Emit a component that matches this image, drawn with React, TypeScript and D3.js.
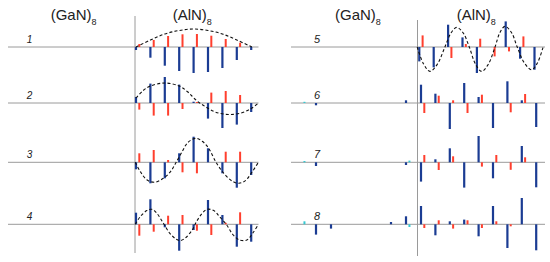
import React from 'react';
import * as d3 from 'd3';

// ---- categories / labels ----
const rowLabels = ['1', '2', '3', '4', '5', '6', '7', '8'];
const materials = ['GaN', 'AlN'];
const subscript = '8';
const alSites = [0, 1, 2, 3, 4, 5, 6, 7, 8]; // cation (blue) sites in AlN
const nSites = [0, 1, 2, 3, 4, 5, 6, 7]; // anion (red) sites in AlN

// ---- cation (blue) amplitudes per mode ----
const blue1 = [-3, -10.7, -18.7, -24, -26, -25, -21, -13, -3];
const blue2 = [6, 19.4, 26, 18.4, 1.3, -15.6, -25, -21.6, -9];
const blue3 = [-7, -21, -16, 9, 25.6, 14, -11, -25.4, -12.7];
const blue4 = [11.6, 25, -3, -26.4, -5.7, 24.3, 9.3, -22.4, -17.4];
const blue5 = [-14.4, -20.4, 22.3, 9.6, -26, 0, 25.6, -11.7, -22.7];
const blue6 = [18.3, 9.3, -26, 20, 6, -25, 21.7, 2.7, -24];
const blue7 = [-19.3, 3, 14, -25.3, 26.3, -16, 0, 16.3, -25];
const blue8 = [18.3, -11, 3, 4.7, -12, 18.3, -23.7, 26.3, -26];

// ---- anion (red) amplitudes per mode ----
const red1 = [3, 7, 11, 12.7, 13, 11.3, 8, 4.3];
const red2 = [-6.6, -12.6, -12.6, -6, 1, 10.4, 12, 8];
const red3 = [9, 12.3, 2.3, -10, -11, 0, 10.6, 10.6];
const red4 = [-11.4, -7.4, 8.6, 9.3, -6.4, -10.7, 1.5, 12];
const red5 = [11.6, 0, -11, 3, 8.3, -9.4, -4.4, 10.6];
const red6 = [-10, 7.3, 2.7, -10, 8.3, 0, -9.3, 9];
const red7 = [7.3, -7.7, 6, 0, -4.3, 7.3, -7.5, 5];
const red8 = [-3.7, 4, -4.3, 4, -3.7, 3, -2, 0];

// ---- GaN-side displacements [site, amplitude] ----
const ga6: [number, number][] = [[-7, -2.3], [-1, 2.7]];
const nGa6: [number, number][] = [[-8, 1.2]];
const ga7: [number, number][] = [[-7, -3.7], [-1, -2.7]];
const nGa7: [number, number][] = [[-8, 1.3], [-1, 1.7]];
const ga8: [number, number][] = [[-7, -10.3], [-6, -4.3], [-2, 2.3], [-1, 8]];
const nGa8: [number, number][] = [[-8, 3], [-1, -2.7]];

// ---- dashed envelopes [site, amplitude] ----
const env1: [number, number][] = [[0, 0], [1, 7], [2, 13], [3, 16.5], [4, 18], [5, 16.5], [6, 13], [7, 7], [8.05, 0]];
const env2: [number, number][] = [[0, 5], [0.5, 12.5], [1, 17], [2, 20], [3, 17], [3.6, 11], [4.2, 2.5], [4.8, -3.5], [5.5, -9], [6.4, -11.5], [7.3, -10], [8, -5.5], [8.5, 0]];
const env3: [number, number][] = [[-0.05, 0], [0.3, -9.3], [0.75, -17.5], [1.3, -20], [1.9, -16], [2.4, -9.3], [2.75, -1], [3.2, 10.5], [3.6, 19.8], [4.15, 24], [4.6, 21], [5.0, 15], [5.6, -1], [6.1, -11], [6.7, -19], [7.15, -21], [7.6, -18.3], [8.0, -11], [8.5, 0]];
const env4: [number, number][] = [[-0.05, 0], [0.3, 7.7], [0.75, 13.7], [1.1, 15], [1.45, 11], [1.9, 1], [2.35, -9], [2.8, -15], [3.05, -16.3], [3.4, -14], [3.9, -5.7], [4.2, 2.7], [4.6, 11], [4.95, 15], [5.4, 13.7], [5.8, 7.7], [6.3, -0.7], [6.75, -10.7], [7.2, -15.7], [7.7, -15.7], [8.1, -9], [8.5, 0]];
const env5: [number, number][] = [[-0.14, 0], [0.3, -17], [0.74, -24.4], [1.26, -17], [1.78, 0], [2.2, 14], [2.6, 19.6], [3.05, 14], [3.47, 0], [3.9, -17], [4.33, -24.4], [4.8, -17], [5.26, 0], [5.6, 14.5], [5.95, 20.6], [6.4, 14.5], [6.8, 0], [7.3, -16], [7.8, -22.7], [8.2, -16], [8.6, 0]];

const blues = [blue1, blue2, blue3, blue4, blue5, blue6, blue7, blue8];
const reds = [red1, red2, red3, red4, red5, red6, red7, red8];
const gaSide = [[], [], [], [], [], ga6, ga7, ga8];
const nGaSide = [[], [], [], [], [], nGa6, nGa7, nGa8];
const envs = [env1, env2, env3, env4, env5, null, null, null];

// ---- layout (not data) ----
const W = 550;
const H = 262;
const rowY = [47, 103, 162.3, 224.3];
const panels = [
  { x0: 136, lineStart: 8, lineEnd: 258.5, vx: 135, vTop: 16, vBot: 253, labelX: 29.5, labelSize: 10, titleX: [50.7, 172.7] },
  { x0: 421, lineStart: 291, lineEnd: 545, vx: 417.5, vTop: 20, vBot: 256, labelX: 317, labelSize: 11, titleX: [335, 456.7] },
];
const rowShift = [0, 0, 0, 0, -1.7, 0, 0, 0];
const BLUE = '#1b3c93';
const RED = '#ff3f2e';
const CYAN = '#36c9d2';
const GRAY = '#9a9a9a';
const ANION_OFFSET = 0.23;

const yScale = d3.scaleLinear().domain([-30, 30]).range([30, -30]);

function Bar({ x, base, v, color, w }: { x: number; base: number; v: number; color: string; w: number }) {
  if (!v) return null;
  const y1 = base + yScale(v);
  return <rect x={x - w / 2} y={Math.min(base, y1)} width={w} height={Math.abs(y1 - base)} fill={color} />;
}

export default function App() {
  const line = d3.line<[number, number]>();
  return (
    <svg width={W} height={H} style={{ position: 'absolute', left: 0, top: 0, background: '#fff' }} fontFamily="Liberation Sans, Arial, sans-serif">
      {panels.map((p, pi) => (
        <g key={'panel' + pi}>
          {materials.map((m, mi) => (
            <text key={m} x={p.titleX[mi]} y={20} fontSize={15} fill="#222">
              ({m})<tspan fontSize={9} dy={4.5}>{subscript}</tspan>
            </text>
          ))}
          {rowY.map((y, ri) => (
            <line key={'h' + ri} x1={p.lineStart} x2={p.lineEnd} y1={y} y2={y} stroke={GRAY} strokeWidth={1} />
          ))}
          <line x1={p.vx} x2={p.vx} y1={p.vTop} y2={p.vBot} stroke={GRAY} strokeWidth={1} />
        </g>
      ))}
      {rowLabels.map((lab, r) => {
        const p = panels[Math.floor(r / 4)];
        const base = rowY[r % 4];
        const x0 = p.x0 + rowShift[r];
        const xs = d3.scaleLinear().domain([-8, 0, 8]).range([x0 - 120, x0, x0 + 115.2]);
        line.x((d) => xs(d[0])).y((d) => base + yScale(d[1])).curve(d3.curveCatmullRom.alpha(0.5));
        const env = envs[r];
        return (
          <g key={'row' + r}>
            <text x={p.labelX} y={base - 4} fontSize={p.labelSize} fontStyle="italic" textAnchor="middle" fill="#222">
              {lab}
            </text>
            {nSites.map((s, i) => (
              <Bar key={'r' + i} x={xs(s + ANION_OFFSET)} base={base} v={reds[r][i]} color={RED} w={2} />
            ))}
            {alSites.map((s, i) => (
              <Bar key={'b' + i} x={xs(s)} base={base} v={blues[r][i]} color={BLUE} w={2.2} />
            ))}
            {(gaSide[r] as [number, number][]).map(([s, v], i) => (
              <Bar key={'g' + i} x={xs(s)} base={base} v={v} color={BLUE} w={2.2} />
            ))}
            {(nGaSide[r] as [number, number][]).map(([s, v], i) => (
              <Bar key={'n' + i} x={xs(s + ANION_OFFSET)} base={base} v={v} color={CYAN} w={2} />
            ))}
            {env && <path d={line(env) || ''} fill="none" stroke="#111" strokeWidth={1.1} strokeDasharray="3,2.2" />}
          </g>
        );
      })}
    </svg>
  );
}
